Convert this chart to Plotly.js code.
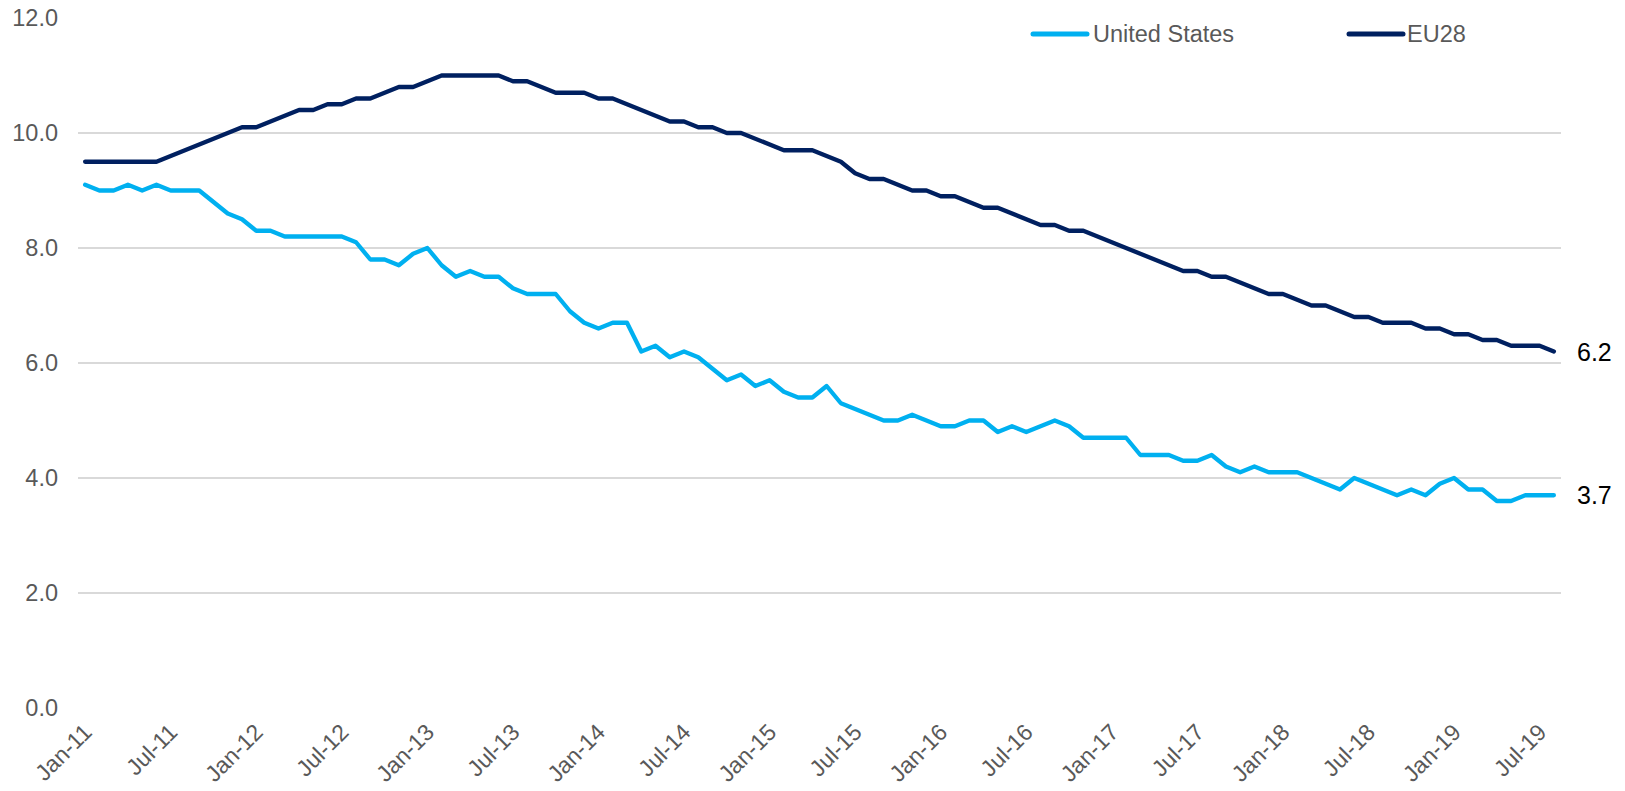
<!DOCTYPE html>
<html>
<head>
<meta charset="utf-8">
<script src="https://cdn.plot.ly/plotly-3.0.1.min.js"></script>
<style>
  html, body { margin: 0; padding: 0; background: #fff; }
  #chart { width: 1625px; height: 791px; }
  /* Excel-style rounded line joins and ends */
  #chart .scatterlayer .js-line,
  #chart .shapelayer path { stroke-linejoin: round; stroke-linecap: round; }
</style>
</head>
<body>
<div id="chart"></div>
<script>
// Unemployment rate, %, monthly Jan-11 .. Aug-19

const months = [
  "Jan-11","Feb-11","Mar-11","Apr-11","May-11","Jun-11","Jul-11","Aug-11","Sep-11","Oct-11","Nov-11","Dec-11",
  "Jan-12","Feb-12","Mar-12","Apr-12","May-12","Jun-12","Jul-12","Aug-12","Sep-12","Oct-12","Nov-12","Dec-12",
  "Jan-13","Feb-13","Mar-13","Apr-13","May-13","Jun-13","Jul-13","Aug-13","Sep-13","Oct-13","Nov-13","Dec-13",
  "Jan-14","Feb-14","Mar-14","Apr-14","May-14","Jun-14","Jul-14","Aug-14","Sep-14","Oct-14","Nov-14","Dec-14",
  "Jan-15","Feb-15","Mar-15","Apr-15","May-15","Jun-15","Jul-15","Aug-15","Sep-15","Oct-15","Nov-15","Dec-15",
  "Jan-16","Feb-16","Mar-16","Apr-16","May-16","Jun-16","Jul-16","Aug-16","Sep-16","Oct-16","Nov-16","Dec-16",
  "Jan-17","Feb-17","Mar-17","Apr-17","May-17","Jun-17","Jul-17","Aug-17","Sep-17","Oct-17","Nov-17","Dec-17",
  "Jan-18","Feb-18","Mar-18","Apr-18","May-18","Jun-18","Jul-18","Aug-18","Sep-18","Oct-18","Nov-18","Dec-18",
  "Jan-19","Feb-19","Mar-19","Apr-19","May-19","Jun-19","Jul-19","Aug-19"
];

const usRate = [
  9.1, 9.0, 9.0, 9.1, 9.0, 9.1, 9.0, 9.0, 9.0, 8.8, 8.6, 8.5,
  8.3, 8.3, 8.2, 8.2, 8.2, 8.2, 8.2, 8.1, 7.8, 7.8, 7.7, 7.9,
  8.0, 7.7, 7.5, 7.6, 7.5, 7.5, 7.3, 7.2, 7.2, 7.2, 6.9, 6.7,
  6.6, 6.7, 6.7, 6.2, 6.3, 6.1, 6.2, 6.1, 5.9, 5.7, 5.8, 5.6,
  5.7, 5.5, 5.4, 5.4, 5.6, 5.3, 5.2, 5.1, 5.0, 5.0, 5.1, 5.0,
  4.9, 4.9, 5.0, 5.0, 4.8, 4.9, 4.8, 4.9, 5.0, 4.9, 4.7, 4.7,
  4.7, 4.7, 4.4, 4.4, 4.4, 4.3, 4.3, 4.4, 4.2, 4.1, 4.2, 4.1,
  4.1, 4.1, 4.0, 3.9, 3.8, 4.0, 3.9, 3.8, 3.7, 3.8, 3.7, 3.9,
  4.0, 3.8, 3.8, 3.6, 3.6, 3.7, 3.7, 3.7
];

const euRate = [
  9.5, 9.5, 9.5, 9.5, 9.5, 9.5, 9.6, 9.7, 9.8, 9.9, 10.0, 10.1,
  10.1, 10.2, 10.3, 10.4, 10.4, 10.5, 10.5, 10.6, 10.6, 10.7, 10.8, 10.8,
  10.9, 11.0, 11.0, 11.0, 11.0, 11.0, 10.9, 10.9, 10.8, 10.7, 10.7, 10.7,
  10.6, 10.6, 10.5, 10.4, 10.3, 10.2, 10.2, 10.1, 10.1, 10.0, 10.0, 9.9,
  9.8, 9.7, 9.7, 9.7, 9.6, 9.5, 9.3, 9.2, 9.2, 9.1, 9.0, 9.0,
  8.9, 8.9, 8.8, 8.7, 8.7, 8.6, 8.5, 8.4, 8.4, 8.3, 8.3, 8.2,
  8.1, 8.0, 7.9, 7.8, 7.7, 7.6, 7.6, 7.5, 7.5, 7.4, 7.3, 7.2,
  7.2, 7.1, 7.0, 7.0, 6.9, 6.8, 6.8, 6.7, 6.7, 6.7, 6.6, 6.6,
  6.5, 6.5, 6.4, 6.4, 6.3, 6.3, 6.3, 6.2
];

const tickLabels = [
  "Jan-11","Jul-11","Jan-12","Jul-12","Jan-13","Jul-13","Jan-14","Jul-14","Jan-15",
  "Jul-15","Jan-16","Jul-16","Jan-17","Jul-17","Jan-18","Jul-18","Jan-19","Jul-19"
];

const seriesNames = ["United States", "EU28"];

const COLORS = { us: "#00B0F0", eu: "#002060", grid: "#D9D9D9", text: "#595959" };
const FONT = "Liberation Sans, Arial, sans-serif";

// plot box in page pixels
const W = 1625, H = 791;
const M = { l: 78, r: 64, t: 18, b: 83 };
const plotW = W - M.l - M.r, plotH = H - M.t - M.b;
const pxX = (px) => (px - M.l) / plotW;
const pxY = (py) => (H - M.b - py) / plotH;

// hand-drawn legend (Excel draws longer swatches than Plotly's built-in legend)
function legendItems() {
  const items = [
    { name: seriesNames[0], color: COLORS.us, x0: 1033, x1: 1087, tx: 1091 },
    { name: seriesNames[1], color: COLORS.eu, x0: 1349, x1: 1403, tx: 1405 },
  ];
  const ly = pxY(34);
  const shapes = items.map((it) => ({
    type: "line", xref: "paper", yref: "paper",
    x0: pxX(it.x0), x1: pxX(it.x1), y0: ly, y1: ly,
    line: { color: it.color, width: 5 },
  }));
  const annotations = items.map((it) => ({
    xref: "paper", yref: "paper", x: pxX(it.tx), y: ly,
    xanchor: "left", yanchor: "middle", showarrow: false,
    text: it.name, font: { family: FONT, size: 23.5, color: COLORS.text },
  }));
  return { shapes, annotations };
}

function drawChart() {
  const last = months.length - 1;

  const traces = [
    {
      type: "scatter", mode: "lines", name: seriesNames[0],
      x: months, y: usRate,
      line: { color: COLORS.us, width: 4.3 },
      hovertemplate: "%{x}: %{y:.1f}<extra>United States</extra>",
    },
    {
      type: "scatter", mode: "lines", name: seriesNames[1],
      x: months, y: euRate,
      line: { color: COLORS.eu, width: 4.3 },
      hovertemplate: "%{x}: %{y:.1f}<extra>EU28</extra>",
    },
  ];

  const endLabel = (v) => ({
    x: months[last], y: v, xref: "x", yref: "y",
    text: v.toFixed(1), showarrow: false,
    xanchor: "left", yanchor: "middle", xshift: 21,
    font: { family: FONT, size: 25, color: "#000000" },
  });

  const leg = legendItems();

  const layout = {
    width: W, height: H, autosize: false,
    margin: { l: M.l, r: M.r, t: M.t, b: M.b, pad: 0 },
    paper_bgcolor: "#ffffff", plot_bgcolor: "#ffffff",
    font: { family: FONT, color: COLORS.text, size: 21 },
    showlegend: false,
    xaxis: {
      type: "category", range: [-0.5, last + 0.5],
      tickmode: "array", tickvals: tickLabels, ticktext: tickLabels,
      tickangle: -45, showgrid: false, showline: false, zeroline: false,
      ticks: "", ticklabelstandoff: 5,
      tickfont: { family: FONT, size: 23, color: COLORS.text },
      automargin: false, fixedrange: true,
    },
    yaxis: {
      range: [0, 12], dtick: 2, tick0: 0, tickformat: ".1f",
      showgrid: true, gridcolor: COLORS.grid, gridwidth: 1.5,
      zeroline: false, showline: false, ticks: "", ticklabelstandoff: 19,
      tickfont: { family: FONT, size: 23.5, color: COLORS.text },
      automargin: false, fixedrange: true,
    },
    shapes: leg.shapes,
    annotations: [endLabel(euRate[last]), endLabel(usRate[last])].concat(leg.annotations),
  };

  Plotly.newPlot("chart", traces, layout, { displayModeBar: false });
}

drawChart();
</script>
</body>
</html>
